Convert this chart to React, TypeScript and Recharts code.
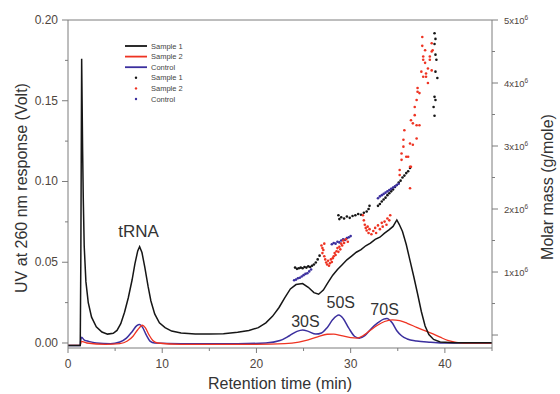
import React from 'react';
import { ComposedChart, Line, Scatter, XAxis, YAxis, Legend, ReferenceDot } from 'recharts';

// UV trace at 260 nm, [retention time (min), response (Volt)]
const sample1Uv: [number, number][] = [
  [0, -0.0015], [1.3, -0.0015], [1.36, 0.05], [1.45, 0.176], [1.55, 0.12], [1.62, 0.09],
  [1.72, 0.06], [1.9, 0.038], [2.15, 0.025], [2.5, 0.016], [3.0, 0.01], [3.6, 0.0068],
  [4.2, 0.0055], [4.8, 0.006], [5.2, 0.0078], [5.6, 0.012], [6.0, 0.019], [6.4, 0.028],
  [6.8, 0.039], [7.1, 0.049], [7.4, 0.057], [7.6, 0.0596], [7.85, 0.056], [8.15, 0.047],
  [8.5, 0.035], [8.8, 0.026], [9.2, 0.018], [9.7, 0.0125], [10.3, 0.0095], [11.0, 0.0074],
  [12.0, 0.0062], [13.5, 0.0056], [15.0, 0.0055], [16.5, 0.0058], [18.0, 0.0066],
  [19.2, 0.0078], [20.2, 0.0095], [21.0, 0.0125], [21.7, 0.0165], [22.4, 0.022],
  [23.0, 0.028], [23.6, 0.0335], [24.2, 0.0362], [24.9, 0.0368], [25.5, 0.0345],
  [26.1, 0.0312], [26.6, 0.0302], [27.1, 0.0328], [27.6, 0.0375], [28.1, 0.042],
  [28.6, 0.0455], [29.1, 0.0485], [29.6, 0.0515], [30.1, 0.0538], [30.6, 0.0562],
  [31.1, 0.0578], [31.6, 0.0602], [32.1, 0.0618], [32.6, 0.0642], [33.1, 0.0655],
  [33.6, 0.068], [34.1, 0.0702], [34.5, 0.0722], [34.9, 0.0762], [35.15, 0.0735],
  [35.5, 0.069], [35.9, 0.061], [36.3, 0.051], [36.7, 0.041], [37.1, 0.0305],
  [37.5, 0.0195], [37.9, 0.0105], [38.3, 0.0052], [38.8, 0.0022], [39.5, 0.0006],
  [41.0, 0.0001], [45.0, 0.0001],
];

const sample2Uv: [number, number][] = [
  [0, -0.0015], [1.3, -0.0015], [1.4, 0.001], [2.0, 0.0], [4.0, -0.0008], [5.5, -0.0004],
  [6.3, 0.0012], [6.9, 0.0042], [7.4, 0.0082], [7.9, 0.011], [8.2, 0.0095], [8.6, 0.005],
  [9.0, 0.0015], [9.5, 0.0], [12.0, -0.0008], [20.0, -0.0008], [23.0, -0.0004],
  [24.5, 0.0006], [25.5, 0.002], [26.5, 0.0038], [27.5, 0.0054], [28.2, 0.0055],
  [29.0, 0.0046], [30.0, 0.0033], [30.7, 0.003], [31.3, 0.0045], [32.0, 0.0075],
  [32.8, 0.0108], [33.6, 0.0133], [34.4, 0.0143], [35.2, 0.0138], [36.0, 0.0122],
  [37.0, 0.0097], [38.0, 0.0073], [38.8, 0.0055], [39.5, 0.0036], [40.3, 0.0016],
  [41.2, 0.0004], [42.0, 0.0], [45.0, 0.0],
];

const controlUv: [number, number][] = [
  [0, -0.0015], [1.3, -0.0015], [1.36, 0.002], [1.45, 0.0035], [1.7, 0.002], [2.2, 0.001],
  [3.0, 0.0], [4.5, -0.0004], [5.5, 0.0006], [6.2, 0.003], [6.8, 0.007], [7.3, 0.0108],
  [7.6, 0.0115], [7.9, 0.0098], [8.3, 0.005], [8.7, 0.0012], [9.2, 0.0], [12.0, -0.0004],
  [18.0, -0.0004], [21.0, 0.0], [22.5, 0.0015], [23.5, 0.0045], [24.3, 0.0072],
  [24.9, 0.0081], [25.5, 0.0072], [26.3, 0.0055], [26.9, 0.0062], [27.5, 0.0095],
  [28.1, 0.0145], [28.75, 0.0173], [29.2, 0.0152], [29.8, 0.0092], [30.4, 0.0042],
  [30.9, 0.003], [31.5, 0.0046], [32.2, 0.009], [32.9, 0.0126], [33.5, 0.0148],
  [33.85, 0.0152], [34.4, 0.0125], [34.9, 0.0076], [35.4, 0.0045], [36.0, 0.0025],
  [37.0, 0.0012], [38.5, 0.0005], [40.0, 0.0], [45.0, 0.0],
];

// molar mass, [retention time (min), g/mole in units of 1e6]
const sample1Mass: [number, number][] = [
  [24.1, 1.07], [24.3, 1.05], [24.5, 1.06], [24.7, 1.07], [24.9, 1.06], [25.1, 1.08],
  [25.3, 1.07], [25.5, 1.09], [25.7, 1.08], [25.9, 1.1], [26.1, 1.12], [26.3, 1.15],
  [26.5, 1.2], [26.7, 1.26],
  [28.7, 1.9], [28.8, 1.84], [29.0, 1.87], [29.3, 1.85], [29.6, 1.88], [29.9, 1.86],
  [30.2, 1.89], [30.5, 1.9], [30.8, 1.92], [31.1, 1.91], [31.4, 1.94], [31.7, 1.96],
  [31.9, 2.0], [32.0, 2.05],
  [32.9, 2.05], [33.1, 2.08], [33.3, 2.12], [33.5, 2.15], [33.7, 2.18], [33.9, 2.22],
  [34.1, 2.25], [34.3, 2.28], [34.5, 2.31], [34.7, 2.35], [34.9, 2.38], [35.1, 2.42],
  [35.3, 2.45], [35.5, 2.5], [35.7, 2.53], [35.9, 2.57], [36.1, 2.6], [36.3, 2.65],
  [38.9, 4.79], [39.0, 4.7], [38.9, 4.62], [39.0, 4.45], [39.1, 4.37], [39.0, 4.18],
  [39.2, 4.08], [38.9, 3.78], [39.0, 3.73], [38.8, 3.62], [38.9, 3.48],
];

const sample2Mass: [number, number][] = [
  [26.9, 1.42], [27.0, 1.38], [27.0, 1.3], [27.1, 1.35], [27.2, 1.25], [27.2, 1.45],
  [27.3, 1.2], [27.4, 1.15], [27.5, 1.12], [27.6, 1.18], [27.7, 1.1], [27.8, 1.14],
  [27.9, 1.2], [28.0, 1.16], [28.1, 1.22], [28.2, 1.25], [28.3, 1.3], [28.4, 1.27],
  [28.5, 1.33], [28.6, 1.38], [28.7, 1.32], [28.8, 1.4], [28.9, 1.36], [29.0, 1.45],
  [29.1, 1.42], [29.2, 1.5], [29.3, 1.46], [29.5, 1.52], [29.7, 1.48],
  [31.3, 1.9], [31.4, 1.82], [31.5, 1.75], [31.6, 1.7], [31.7, 1.66], [31.8, 1.72],
  [31.9, 1.62], [32.0, 1.68], [32.2, 1.6], [32.4, 1.65], [32.6, 1.7], [32.7, 1.62],
  [32.9, 1.74], [33.1, 1.68], [33.3, 1.78], [33.4, 1.72], [33.6, 1.8], [33.8, 1.75],
  [33.9, 1.85], [34.1, 1.82], [34.2, 1.9],
  [35.2, 2.54], [35.2, 2.62], [35.4, 2.78], [35.4, 2.88], [35.6, 2.99], [35.6, 3.1],
  [35.7, 3.25], [35.9, 2.83], [36.1, 2.83], [36.3, 2.67], [36.3, 2.33], [36.3, 3.04],
  [36.4, 2.67], [36.4, 3.41], [36.6, 3.36], [36.6, 3.02], [36.8, 3.49], [36.8, 3.62],
  [37.0, 3.73], [37.0, 3.33], [37.0, 3.12], [37.1, 3.86], [37.1, 3.92], [37.3, 3.33],
  [37.3, 3.84], [37.5, 4.18], [37.6, 4.59], [37.6, 4.73], [37.7, 4.42], [37.7, 4.1],
  [37.7, 4.37], [37.9, 4.32], [37.9, 4.52], [38.0, 4.1], [38.0, 4.15], [38.2, 4.0],
  [38.2, 4.23], [38.4, 4.37], [38.4, 4.42], [38.6, 4.2], [38.6, 4.5], [38.6, 4.63],
  [38.7, 4.52],
];

const controlMass: [number, number][] = [
  [24.0, 0.87], [24.2, 0.88], [24.4, 0.9], [24.6, 0.91], [24.8, 0.93], [25.0, 0.95],
  [25.2, 0.97], [25.4, 0.98], [25.6, 1.01], [25.8, 1.04],
  [28.0, 1.44], [28.2, 1.46], [28.4, 1.45], [28.6, 1.48], [28.8, 1.47], [29.0, 1.5],
  [29.2, 1.52], [29.4, 1.51], [29.6, 1.54], [29.8, 1.55], [30.0, 1.57],
  [32.9, 2.17], [33.1, 2.2], [33.3, 2.22], [33.5, 2.24], [33.7, 2.26], [33.9, 2.28],
  [34.1, 2.3], [34.3, 2.32], [34.5, 2.34], [34.7, 2.36], [34.9, 2.38], [35.1, 2.4],
];

const timeTicks = [0, 5, 10, 15, 20, 25, 30, 35, 40, 45];
const uvTicks = [0, 0.025, 0.05, 0.075, 0.1, 0.125, 0.15, 0.175, 0.2];
const massTicks = [0, 0.5, 1, 1.5, 2, 2.5, 3, 3.5, 4, 4.5, 5];

const peakLabels = [
  { text: 'tRNA', t: 7.5, uv: 0.0656, size: 17 },
  { text: '30S', t: 25.2, uv: 0.0101, size: 16 },
  { text: '50S', t: 28.95, uv: 0.0217, size: 16 },
  { text: '70S', t: 33.6, uv: 0.0173, size: 16 },
];

const BLACK = '#161616';
const RED = '#ee3322';
const BLUE = '#3b2f9e';
const AXIS = '#7d7d7d';
const TICK_TEXT = '#4f463e';
const FONT = '"Liberation Sans", Arial, sans-serif';

const toPoints = (rows: [number, number][]) => rows.map(([t, y]) => ({ t, y }));

const isMajor = (v: number, step: number) => Math.abs(v / step - Math.round(v / step)) < 1e-6;

const BottomTick = (props: any) => {
  const { x, y, payload } = props;
  const major = isMajor(payload.value, 10);
  return (
    <g>
      <line x1={x} x2={x} y1={y} y2={y + (major ? 5 : 3)} stroke={AXIS} />
      {major && (
        <text x={x} y={y + 20} textAnchor="middle" fontSize={12} fill={TICK_TEXT} fontFamily={FONT}>
          {payload.value}
        </text>
      )}
    </g>
  );
};

const TopTick = (props: any) => {
  const { x, y, payload } = props;
  if (payload.value <= 0 || payload.value >= 45) return <g />;
  const major = isMajor(payload.value, 10);
  return <line x1={x} x2={x} y1={y} y2={y + (major ? 4 : 2)} stroke={AXIS} />;
};

const LeftTick = (props: any) => {
  const { x, y, payload } = props;
  const major = isMajor(payload.value, 0.05);
  return (
    <g>
      <line x1={x - (major ? 6 : 3)} x2={x} y1={y} y2={y} stroke={AXIS} />
      {major && (
        <text x={x - 10} y={y + 4} textAnchor="end" fontSize={12} fill={TICK_TEXT} fontFamily={FONT}>
          {payload.value.toFixed(2)}
        </text>
      )}
    </g>
  );
};

const RightTick = (props: any) => {
  const { x, y, payload } = props;
  const major = isMajor(payload.value, 1);
  return (
    <g>
      <line x1={x} x2={x + (major ? 6 : 3)} y1={y} y2={y} stroke={AXIS} />
      {major && payload.value > 0 && (
        <text x={x + 12} y={y + 4} fontSize={9.5} fill={TICK_TEXT} fontFamily={FONT}>
          {`${payload.value}x10`}
          <tspan dy={-4} fontSize={6.5}>6</tspan>
        </text>
      )}
    </g>
  );
};

const dot = (color: string) => (p: any) => <circle cx={p.cx} cy={p.cy} r={1.3} fill={color} />;

const legendRows = [
  { name: 'Sample 1', color: BLACK, kind: 'line' },
  { name: 'Sample 2', color: RED, kind: 'line' },
  { name: 'Control', color: BLUE, kind: 'line' },
  { name: 'Sample 1', color: BLACK, kind: 'dot' },
  { name: 'Sample 2', color: RED, kind: 'dot' },
  { name: 'Control', color: BLUE, kind: 'dot' },
];

const LegendBox = () => (
  <svg width={90} height={66}>
    {legendRows.map((row, i) => {
      const y = 6 + i * 10.6;
      return (
        <g key={i}>
          {row.kind === 'line' ? (
            <line x1={5} x2={27} y1={y} y2={y} stroke={row.color} strokeWidth={1.8} />
          ) : (
            <circle cx={16} cy={y} r={1.2} fill={row.color} />
          )}
          <text x={31} y={y + 2.6} fontSize={7.5} fill="#444" fontFamily={FONT}>
            {row.name}
          </text>
        </g>
      );
    })}
  </svg>
);

const peakText = (text: string, size: number) => (p: any) => (
  <text x={p.cx} y={p.cy} textAnchor="middle" fontSize={size} fill="#333" fontFamily={FONT}>
    {text}
  </text>
);

export default function App() {
  return (
    <div style={{ position: 'absolute', left: 0, top: 0, width: 560, height: 394, background: '#fff' }}>
      <ComposedChart width={560} height={394} margin={{ top: 19, right: 0, bottom: 0, left: 0 }}>
        <XAxis
          xAxisId="time"
          dataKey="t"
          type="number"
          domain={[0, 45]}
          ticks={timeTicks}
          interval={0}
          height={46}
          stroke={AXIS}
          tickLine={false}
          tickSize={0}
          tickMargin={0}
          tick={<BottomTick />}
          allowDataOverflow
          label={({ viewBox }: any) => (
            <text
              x={viewBox.x + viewBox.width / 2}
              y={viewBox.y + 41}
              textAnchor="middle"
              fontSize={16}
              fill="#333"
              fontFamily={FONT}
            >
              Retention time (min)
            </text>
          )}
        />
        {/* top frame with small inward ticks */}
        <XAxis
          xAxisId="top"
          orientation="top"
          dataKey="t"
          type="number"
          domain={[0, 45]}
          ticks={timeTicks}
          interval={0}
          height={1}
          stroke={AXIS}
          tickLine={false}
          tickSize={0}
          tickMargin={0}
          tick={<TopTick />}
        />
        <YAxis
          yAxisId="uv"
          type="number"
          domain={[-0.0031, 0.2]}
          ticks={uvTicks}
          interval={0}
          width={68}
          stroke={AXIS}
          tickLine={false}
          tickSize={0}
          tickMargin={0}
          tick={<LeftTick />}
          allowDataOverflow
          label={({ viewBox }: any) => {
            const cx = viewBox.x + 21;
            const cy = viewBox.y + viewBox.height / 2 + 4;
            return (
              <text
                x={cx}
                y={cy}
                transform={`rotate(-90, ${cx}, ${cy})`}
                textAnchor="middle"
                dominantBaseline="central"
                fontSize={16}
                fill="#333"
                fontFamily={FONT}
              >
                UV at 260 nm response (Volt)
              </text>
            );
          }}
        />
        <YAxis
          yAxisId="mass"
          orientation="right"
          type="number"
          domain={[-0.206, 5]}
          ticks={massTicks}
          interval={0}
          width={68}
          stroke={AXIS}
          tickLine={false}
          tickSize={0}
          tickMargin={0}
          tick={<RightTick />}
          allowDataOverflow
          label={({ viewBox }: any) => {
            const cx = viewBox.x + 55;
            const cy = viewBox.y + viewBox.height / 2 + 3;
            return (
              <text
                x={cx}
                y={cy}
                transform={`rotate(-90, ${cx}, ${cy})`}
                textAnchor="middle"
                dominantBaseline="central"
                fontSize={16}
                fill="#333"
                fontFamily={FONT}
              >
                Molar mass (g/mole)
              </text>
            );
          }}
        />
        <Legend
          layout="vertical"
          align="center"
          verticalAlign="middle"
          content={<LegendBox />}
          wrapperStyle={{ left: 120, top: 40, width: 90, height: 66 }}
        />
        <Line xAxisId="time" yAxisId="uv" data={toPoints(controlUv)} dataKey="y" type="monotone" stroke={BLUE} strokeWidth={1.5} dot={false} isAnimationActive={false} />
        <Line xAxisId="time" yAxisId="uv" data={toPoints(sample2Uv)} dataKey="y" type="monotone" stroke={RED} strokeWidth={1.3} dot={false} isAnimationActive={false} />
        <Line xAxisId="time" yAxisId="uv" data={toPoints(sample1Uv)} dataKey="y" type="linear" stroke={BLACK} strokeWidth={1.5} dot={false} isAnimationActive={false} />
        <Scatter xAxisId="time" yAxisId="mass" data={toPoints(sample1Mass)} dataKey="y" shape={dot(BLACK)} isAnimationActive={false} />
        <Scatter xAxisId="time" yAxisId="mass" data={toPoints(controlMass)} dataKey="y" shape={dot(BLUE)} isAnimationActive={false} />
        <Scatter xAxisId="time" yAxisId="mass" data={toPoints(sample2Mass)} dataKey="y" shape={dot(RED)} isAnimationActive={false} />
        {peakLabels.map((p) => (
          <ReferenceDot key={p.text} xAxisId="time" yAxisId="uv" x={p.t} y={p.uv} r={0} shape={peakText(p.text, p.size)} />
        ))}
      </ComposedChart>
    </div>
  );
}
